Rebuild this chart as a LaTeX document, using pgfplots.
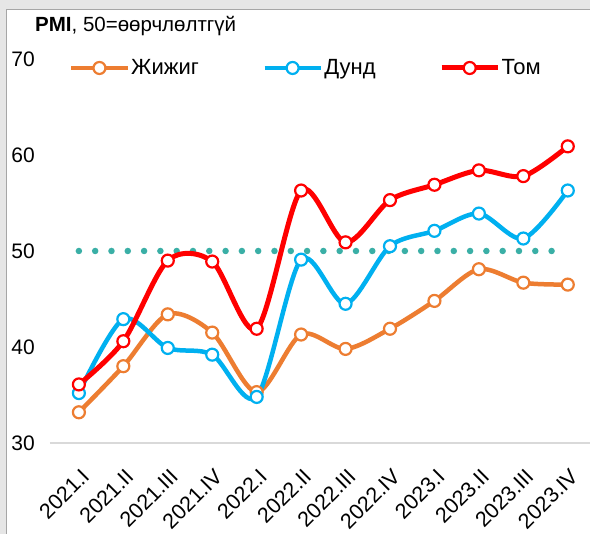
\documentclass[border=0pt]{standalone}
\usepackage{pgfplots}
\pgfplotsset{compat=1.18}
\usepackage{fontspec}
\setmainfont{Liberation Sans}
\definecolor{cOrange}{HTML}{ED7D31}
\definecolor{cBlue}{HTML}{00B0F0}
\definecolor{cRed}{HTML}{FF0000}
\definecolor{cTeal}{HTML}{3AAFA6}
\definecolor{cFrame}{HTML}{E6E6E6}
\definecolor{cFrameLine}{HTML}{A6A6A6}
\definecolor{cAxis}{HTML}{D9D9D9}
\pgfplotstableread{
x small medium large ref
0 33.2 35.2 36.1 50
1 38.0 42.9 40.6 50
2 43.4 39.9 49.0 50
3 41.5 39.2 48.9 50
4 35.3 34.8 41.9 50
5 41.3 49.1 56.3 50
6 39.8 44.5 50.9 50
7 41.9 50.5 55.3 50
8 44.8 52.1 56.9 50
9 48.1 53.9 58.4 50
10 46.7 51.3 57.8 50
11 46.5 56.3 60.9 50
}\datatable
\begin{document}
\begin{tikzpicture}
\useasboundingbox (0,0) rectangle (590pt,534pt);
\fill[white] (0,0) rectangle (590pt,534pt);
\fill[cFrame] (0,525pt) rectangle (590pt,534pt);
\fill[cFrame] (0,0) rectangle (6pt,534pt);
\draw[cFrameLine, line width=1pt] (6.5pt,0) -- (6.5pt,524.5pt) -- (590pt,524.5pt);
\begin{axis}[
  at={(50pt,91pt)}, anchor=south west,
  scale only axis, width=540pt, height=384pt,
  xmin=-0.65, xmax=11.5, ymin=30, ymax=70,
  axis lines*=left,
  x axis line style={cAxis, line width=1.5pt},
  y axis line style={draw=none},
  major tick length=0pt,
  ytick={30,40,50,60,70},
  xtick={0,...,11},
  xticklabels={2021.I,2021.II,2021.III,2021.IV,2022.I,2022.II,2022.III,2022.IV,2023.I,2023.II,2023.III,2023.IV},
  /pgf/number format/assume math mode=true,
  yticklabel style={font=\fontsize{21}{25}\selectfont, inner sep=0pt, anchor=east, xshift=-15pt},
  xticklabel style={font=\fontsize{21.5}{26}\selectfont, inner sep=0pt, xshift=1pt, yshift=-24pt, rotate=45, anchor=north east},
  clip=false,
  title={\textbf{PMI}, 50=өөрчлөлтгүй},
  title style={font=\fontsize{20.5}{24}\selectfont, at={(axis description cs:-0.0278,1.0703)}, anchor=west, inner sep=0pt},
  legend columns=3,
  legend style={at={(axis description cs:0.0352,0.9766)}, anchor=west, draw=none, fill=none,
    font=\fontsize{22}{26}\selectfont, inner sep=0pt, nodes={inner sep=1.5pt},
    /tikz/every even column/.append style={column sep=62pt}},
  legend image code/.code={\draw[mark repeat=2, mark phase=2, #1] plot coordinates {(0pt,0pt) (28pt,0pt) (56pt,0pt)};},
]
\addplot[cTeal, line width=6.5pt, dash pattern=on 0pt off 16.3pt, line cap=round, forget plot] table[x=x, y=ref] {\datatable};
\addplot[cOrange, line width=4.5pt, smooth, tension=0.5, mark=*, mark size=6pt, mark options={solid, fill=white, line width=2.2pt}] table[x=x, y=small] {\datatable};
\addlegendentry{Жижиг}
\addplot[cBlue, line width=4.5pt, smooth, tension=0.5, mark=*, mark size=6pt, mark options={solid, fill=white, line width=2.2pt}] table[x=x, y=medium] {\datatable};
\addlegendentry{Дунд}
\addplot[cRed, line width=5pt, smooth, tension=0.5, mark=*, mark size=6pt, mark options={solid, fill=white, line width=2.2pt}] table[x=x, y=large] {\datatable};
\addlegendentry{Том}
\end{axis}
\end{tikzpicture}
\end{document}
